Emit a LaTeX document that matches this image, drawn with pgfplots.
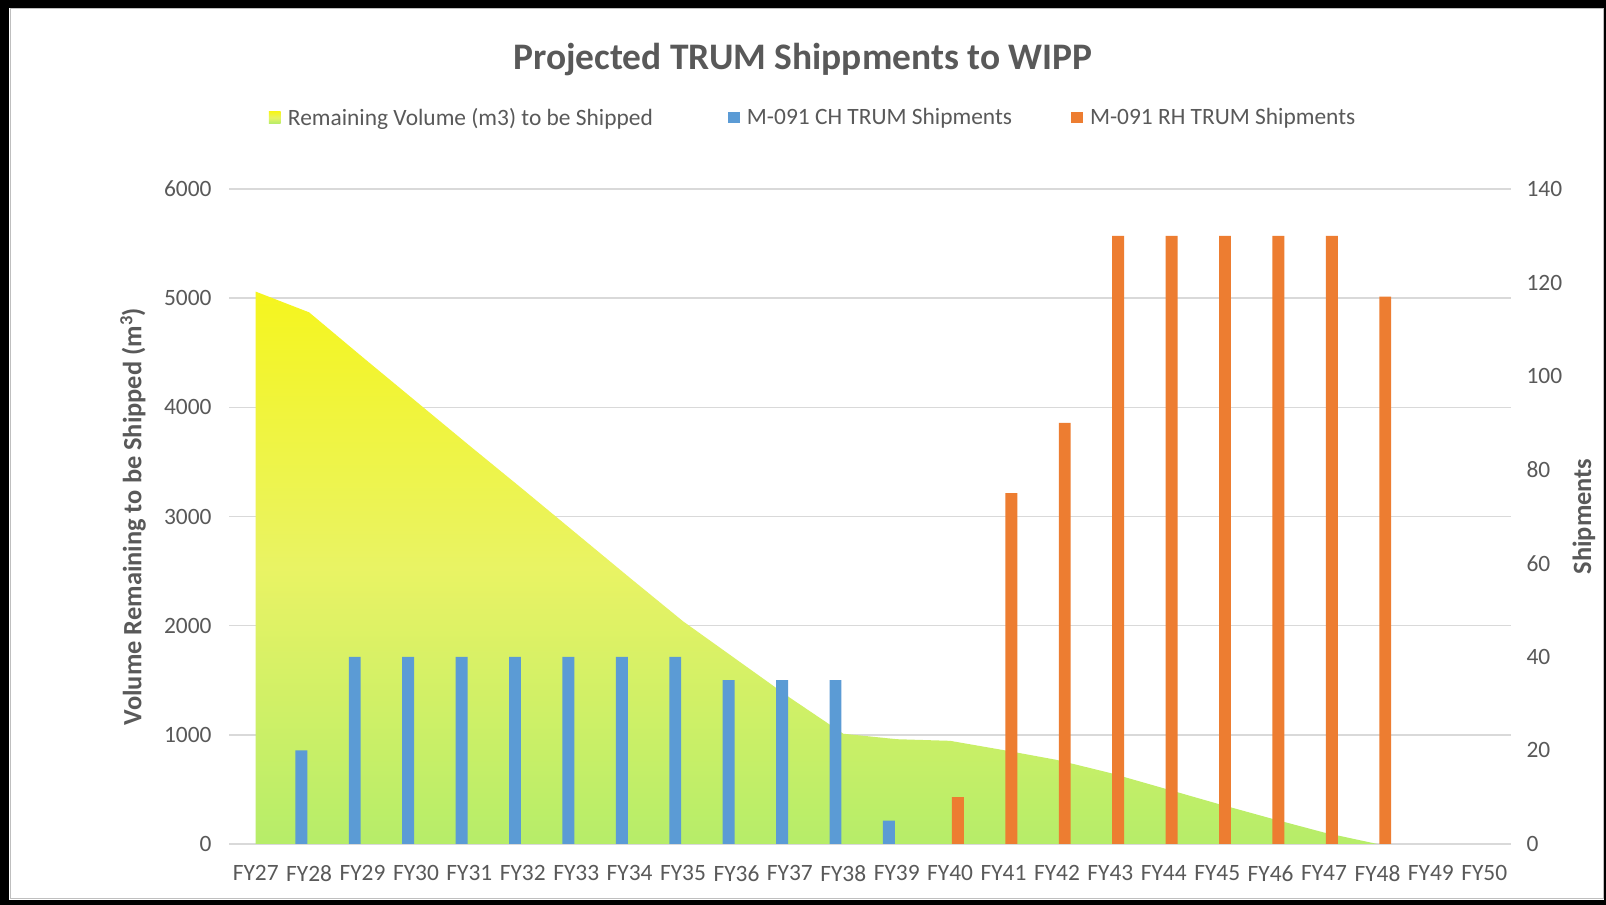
\documentclass[border=0pt]{standalone}
\usepackage{pgfplots}
\pgfplotsset{compat=1.18}
\usepackage{fontspec}
\setmainfont{Carlito}
\definecolor{txt}{HTML}{595959}
\definecolor{grd}{HTML}{D9D9D9}
\definecolor{chblue}{HTML}{5B9BD5}
\definecolor{rhorange}{HTML}{ED7D31}
\definecolor{ytop}{RGB}{245,245,30}
\definecolor{ymid}{RGB}{233,243,100}
\definecolor{gbot}{RGB}{182,237,105}
\pgfplotsset{
  sqlegend/.style={legend image code/.code={\fill[draw=none,##1] (0bp,-5.8bp) rectangle (11.6bp,5.8bp);}},
  common/.style={
    at={(229bp,61bp)}, anchor=south west,
    scale only axis, width=1282bp, height=655bp,
    xmin=-0.5, xmax=23.5,
    axis line style={draw=none},
    major tick length=0pt,
    tick label style={font=\fontsize{23.5}{28}\selectfont, text=txt},
    /pgf/number format/assume math mode=true,
    /pgf/number format/1000 sep={},
    scaled y ticks=false,
  }
}
\begin{document}
\begin{tikzpicture}
\useasboundingbox (0,0) rectangle (1606bp,905bp);
\fill[black] (0,0) rectangle (1606bp,905bp);
\fill[white] (9bp,5bp) rectangle (1604bp,897bp);
\draw[black!25, line width=1bp] (10bp,6bp) rectangle (1603bp,896bp);

\node[anchor=base, text=txt, font=\fontsize{37.6}{45}\selectfont\bfseries] at (803bp,835bp) {Projected TRUM Shippments to WIPP};

\begin{axis}[common,
  ymin=0, ymax=6000, ytick={0,1000,...,6000},
  ymajorgrids, grid style={grd, line width=1.6bp},
  xtick={0,...,23},
  xticklabels={FY27,FY28,FY29,FY30,FY31,FY32,FY33,FY34,FY35,FY36,FY37,FY38,FY39,FY40,FY41,FY42,FY43,FY44,FY45,FY46,FY47,FY48,FY49,FY50},
  xticklabel style={yshift=-18bp},
  yticklabel style={xshift=-14bp},
  ylabel={Volume Remaining to be Shipped (m\textsuperscript{3})},
  every axis y label/.style={at={(rel axis cs:0,0.5)}, xshift=-96bp, anchor=center, rotate=90, font=\fontsize{26.5}{32}\selectfont\bfseries, text=txt},
]
\addplot[draw=none, top color=ytop, bottom color=gbot, middle color=ymid] coordinates {
(0,5060) (1,4870) (2,4460) (3,4055) (4,3650) (5,3250) (6,2845) (7,2440) (8,2040) (9,1690) (10,1340) (11,1010) (12,960) (13,945) (14,860) (15,770) (16,650) (17,510) (18,370) (19,235) (20,105) (21,0)
} \closedcycle;
\end{axis}

\begin{axis}[common,
  ymin=0, ymax=140, ytick={0,20,...,140},
  yticklabel pos=right,
  xtick=\empty,
  yticklabel style={xshift=12bp},
  ylabel={Shipments},
  every axis y label/.style={at={(rel axis cs:1,0.5)}, xshift=73bp, anchor=center, rotate=90, font=\fontsize{26.5}{32}\selectfont\bfseries, text=txt},
  legend columns=3,
  legend cell align=left,
  legend style={draw=none, fill=none, at={(rel axis cs:0.031,1.109)}, anchor=west, inner sep=0pt,
    font=\fontsize{23.5}{28}\selectfont, text=txt,
    nodes={inner sep=0pt},
    /tikz/every odd column/.append style={column sep=7.4bp},
    /tikz/every even column/.append style={column sep=74bp}},
]
\addlegendimage{draw=none, top color=ytop, bottom color=gbot, middle color=ymid, sqlegend}
\addlegendentry{Remaining Volume (m3) to be Shipped\kern 1bp}
\addplot[ybar, bar width=11.9bp, bar shift=-7.8bp, fill=chblue, draw=none, sqlegend] coordinates {
(1,20) (2,40) (3,40) (4,40) (5,40) (6,40) (7,40) (8,40) (9,35) (10,35) (11,35) (12,5)
};
\addlegendentry{M-091 CH TRUM Shipments\kern -15bp}
\addplot[ybar, bar width=11.9bp, bar shift=7.8bp, fill=rhorange, draw=none, sqlegend] coordinates {
(13,10) (14,75) (15,90) (16,130) (17,130) (18,130) (19,130) (20,130) (21,117)
};
\addlegendentry{M-091 RH TRUM Shipments}
\end{axis}
\end{tikzpicture}
\end{document}
